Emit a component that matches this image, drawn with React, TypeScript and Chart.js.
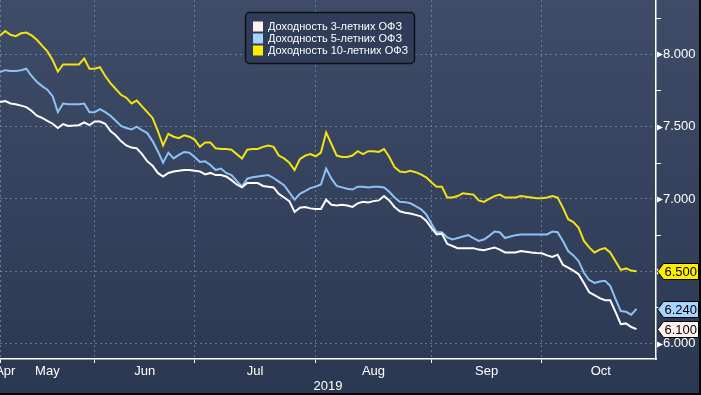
import React, { useEffect, useRef } from 'react';
import { Chart, registerables } from 'chart.js';

Chart.register(...registerables);

// ---- Data ----
const seriesNames = ['Доходность 3-летних ОФЗ', 'Доходность 5-летних ОФЗ', 'Доходность 10-летних ОФЗ'];

const yield3 = [
  7.67, 7.677, 7.66, 7.655, 7.645, 7.635, 7.61, 7.575, 7.56, 7.54,
  7.52, 7.49, 7.517, 7.505, 7.507, 7.51, 7.53, 7.51, 7.535, 7.535,
  7.52, 7.47, 7.44, 7.4, 7.37, 7.355, 7.35, 7.31, 7.26, 7.23,
  7.18, 7.155, 7.18, 7.19, 7.195, 7.2, 7.2, 7.195, 7.19, 7.17,
  7.18, 7.165, 7.165, 7.155, 7.13, 7.1, 7.08, 7.11, 7.11, 7.11,
  7.09, 7.085, 7.08, 7.035, 7.01, 6.985, 6.91, 6.94, 6.945, 6.935,
  6.93, 6.93, 6.995, 6.96, 6.955, 6.96, 6.955, 6.945, 6.97, 6.98,
  6.975, 6.985, 6.99, 7.02, 6.99, 6.945, 6.915, 6.905, 6.9, 6.89,
  6.88, 6.85, 6.8, 6.755, 6.76, 6.69, 6.675, 6.66, 6.66, 6.66,
  6.66, 6.65, 6.645, 6.655, 6.665, 6.65, 6.63, 6.63, 6.63, 6.64,
  6.635, 6.63, 6.627, 6.625, 6.61, 6.6, 6.615, 6.545, 6.525, 6.505,
  6.48, 6.42, 6.355, 6.335, 6.315, 6.3, 6.3, 6.22, 6.135, 6.14,
  6.115, 6.1,
];

const yield5 = [
  7.877, 7.89, 7.885, 7.885, 7.89, 7.9, 7.85, 7.81, 7.78, 7.755,
  7.71, 7.6, 7.66, 7.655, 7.655, 7.655, 7.66, 7.6, 7.6, 7.62,
  7.6, 7.575, 7.54, 7.505, 7.49, 7.48, 7.5, 7.475, 7.455, 7.4,
  7.33, 7.25, 7.32, 7.28, 7.305, 7.325, 7.32, 7.29, 7.255, 7.26,
  7.235, 7.2, 7.21, 7.18, 7.165, 7.125, 7.085, 7.14, 7.15, 7.155,
  7.16, 7.165, 7.145, 7.12, 7.095, 7.045, 6.995, 7.035, 7.055, 7.075,
  7.085, 7.1, 7.21, 7.14, 7.09, 7.08, 7.07, 7.065, 7.085, 7.085,
  7.08, 7.085, 7.085, 7.08, 7.05, 7.01, 6.98, 6.978, 6.97, 6.95,
  6.93, 6.895, 6.83, 6.77, 6.77, 6.735, 6.72, 6.73, 6.74, 6.75,
  6.73, 6.71, 6.72, 6.745, 6.775, 6.77, 6.73, 6.74, 6.75, 6.755,
  6.755, 6.755, 6.755, 6.755, 6.755, 6.775, 6.77, 6.71, 6.64, 6.61,
  6.57, 6.49, 6.44, 6.42, 6.43, 6.435, 6.4, 6.31, 6.225, 6.22,
  6.2, 6.24,
];

const yield10 = [
  8.13, 8.16, 8.135, 8.125, 8.145, 8.15, 8.13, 8.1, 8.06, 8.02,
  7.96, 7.88, 7.93, 7.93, 7.93, 7.93, 7.97, 7.9, 7.9, 7.91,
  7.85, 7.8, 7.76, 7.72, 7.7, 7.66, 7.68, 7.64, 7.6, 7.56,
  7.47, 7.37, 7.45, 7.43, 7.42, 7.44, 7.43, 7.41, 7.36, 7.39,
  7.39, 7.35, 7.345, 7.345, 7.34, 7.31, 7.28, 7.34, 7.345, 7.345,
  7.36, 7.37, 7.36, 7.3, 7.28, 7.25, 7.2, 7.275, 7.3, 7.31,
  7.295, 7.32, 7.46, 7.38, 7.3, 7.29, 7.29, 7.3, 7.33, 7.31,
  7.33, 7.33, 7.325, 7.345, 7.29, 7.22, 7.19, 7.185, 7.195, 7.185,
  7.17, 7.15, 7.115, 7.085, 7.085, 7.01, 7.01, 7.02, 7.04, 7.035,
  7.03, 6.99, 6.98, 7.0, 7.02, 7.03, 7.01, 7.01, 7.01, 7.02,
  7.015, 7.01, 7.005, 7.005, 7.01, 7.02, 7.01, 6.94, 6.86, 6.84,
  6.8, 6.71, 6.665, 6.63, 6.65, 6.66, 6.63, 6.57, 6.51, 6.52,
  6.505, 6.5,
];

const monthNames = ['Apr', 'May', 'Jun', 'Jul', 'Aug', 'Sep', 'Oct'];
const monthLabelIdx = [1, 9, 27.5, 48.5, 71, 92.5, 114.2];
const monthTickIdx = [0, 18, 37, 60, 82, 103];
const yearLabel = '2019';
const yTickValues = [6, 6.25, 6.5, 6.75, 7, 7.25, 7.5, 7.75, 8, 8.25];
const yMajorStep = 0.5;

const lineColors = ['#ffffff', '#8cc3f2', '#f3e312'];
const swatchColors = ['#fff2ee', '#a6d3ff', '#ffee00'];

const AXIS_FONT = '"Liberation Sans", Arial, sans-serif';

const isMajor = (v: number) => Math.abs(v / yMajorStep - Math.round(v / yMajorStep)) < 1e-6;

const bgPlugin = {
  id: 'bg',
  beforeDraw(chart: any) {
    const { ctx, width, height } = chart;
    ctx.save();
    const g = ctx.createLinearGradient(0, 0, 0, height);
    g.addColorStop(0, '#3e4c68');
    g.addColorStop(1, '#2a3852');
    ctx.fillStyle = g;
    ctx.fillRect(0, 0, width, height);
    ctx.restore();
  },
};

const overlayPlugin = {
  id: 'overlay',
  afterDraw(chart: any) {
    const { ctx, chartArea, scales, width, height } = chart;
    const xs = scales.x;
    const ys = scales.y;
    ctx.save();

    // y axis tick marks (minor lines / major arrows)
    ctx.fillStyle = '#ffffff';
    ctx.strokeStyle = '#ffffff';
    ctx.lineWidth = 1;
    const ax = chartArea.right;
    yTickValues.forEach((v) => {
      const y = Math.round(ys.getPixelForValue(v)) + 0.5;
      if (isMajor(v)) {
        ctx.beginPath();
        ctx.moveTo(ax + 1, y - 3);
        ctx.lineTo(ax + 7, y);
        ctx.lineTo(ax + 1, y + 3);
        ctx.closePath();
        ctx.fill();
      } else {
        ctx.beginPath();
        ctx.moveTo(ax, y);
        ctx.lineTo(ax + 5, y);
        ctx.stroke();
      }
    });

    // month labels
    ctx.fillStyle = '#ffffff';
    ctx.font = '13px ' + AXIS_FONT;
    ctx.textAlign = 'center';
    ctx.textBaseline = 'middle';
    monthNames.forEach((m, i) => {
      ctx.fillText(m, xs.getPixelForValue(monthLabelIdx[i]), chartArea.bottom + 12);
    });
    ctx.fillText(yearLabel, (chartArea.left + chartArea.right) / 2, chartArea.bottom + 27);

    // last value tags
    const lastVals = chart.data.datasets.map((d: any) => d.data[d.data.length - 1].y);
    lastVals.forEach((v: number, i: number) => {
      const y = Math.round(ys.getPixelForValue(v)) + 0.5;
      const x0 = ax + 1.5;
      ctx.beginPath();
      ctx.moveTo(x0, y);
      ctx.lineTo(x0 + 6, y - 8);
      ctx.lineTo(width - 2.5, y - 8);
      ctx.lineTo(width - 2.5, y + 8);
      ctx.lineTo(x0 + 6, y + 8);
      ctx.closePath();
      ctx.fillStyle = swatchColors[i];
      ctx.fill();
      ctx.strokeStyle = '#000000';
      ctx.lineWidth = 1;
      ctx.stroke();
      ctx.fillStyle = '#000000';
      ctx.textAlign = 'left';
      ctx.textBaseline = 'middle';
      ctx.font = '13px ' + AXIS_FONT;
      ctx.fillText(v.toFixed(3), x0 + 7, y + 1);
    });

    // legend
    const lx = 245.5, ly = 12.5, lw = 169, lh = 51;
    ctx.beginPath();
    if ((ctx as any).roundRect) (ctx as any).roundRect(lx, ly, lw, lh, 4);
    else ctx.rect(lx, ly, lw, lh);
    ctx.fillStyle = '#2f3d59';
    ctx.fill();
    ctx.strokeStyle = '#0d1018';
    ctx.lineWidth = 1.5;
    ctx.stroke();
    ctx.font = '11px ' + AXIS_FONT;
    ctx.textAlign = 'left';
    ctx.textBaseline = 'middle';
    chart.data.datasets.forEach((d: any, i: number) => {
      const cy = 26.5 + i * 12;
      ctx.fillStyle = swatchColors[i];
      ctx.fillRect(253, cy - 5, 10, 10);
      ctx.fillStyle = '#ffffff';
      ctx.fillText(d.label, 268, cy + 0.5);
    });

    // dark frame edges
    ctx.fillStyle = '#05070b';
    ctx.fillRect(width - 2, 0, 2, height);
    ctx.fillRect(0, height - 2, width, 2);
    ctx.restore();
  },
};

export default function App() {
  const ref = useRef<HTMLCanvasElement>(null);
  useEffect(() => {
    const canvas = ref.current!;
    const mk = (arr: number[]) => arr.map((v, i) => ({ x: i, y: v }));
    const allSeries = [yield3, yield5, yield10];
    const gridColor = 'rgba(120,140,170,0.75)';
    const chart = new Chart(canvas, {
      type: 'line',
      data: {
        datasets: allSeries.map((s, i) => ({
          label: seriesNames[i],
          data: mk(s),
          borderColor: lineColors[i],
          backgroundColor: lineColors[i],
          borderWidth: 2,
          pointRadius: 0,
          tension: 0,
          fill: false,
        })),
      },
      options: {
        animation: false,
        responsive: false,
        devicePixelRatio: 1,
        layout: { padding: 0 },
        plugins: { legend: { display: false }, tooltip: { enabled: false } },
        scales: {
          x: {
            type: 'linear',
            position: 'bottom',
            min: 0,
            max: 124.7,
            afterBuildTicks: (s: any) => {
              s.ticks = monthTickIdx.map((v) => ({ value: v }));
            },
            afterFit: (s: any) => {
              s.height = 36;
              s.paddingLeft = 0;
              s.paddingRight = 0;
              s.paddingTop = 0;
              s.paddingBottom = 0;
            },
            ticks: { display: false },
            grid: {
              color: gridColor,
              lineWidth: 1,
              drawTicks: true,
              tickLength: 4,
              tickColor: '#ffffff',
              tickWidth: 1,
            },
            border: { display: true, color: '#ffffff', width: 1.5, dash: [2, 3] },
          },
          y: {
            type: 'linear',
            position: 'right',
            min: 5.894,
            max: 8.375,
            afterBuildTicks: (s: any) => {
              s.ticks = yTickValues.map((v) => ({ value: v }));
            },
            afterFit: (s: any) => {
              s.width = 45;
              s.paddingTop = 0;
              s.paddingBottom = 0;
              s.paddingLeft = 0;
              s.paddingRight = 0;
            },
            ticks: {
              autoSkip: false,
              padding: 7,
              color: '#ffffff',
              font: { family: AXIS_FONT, size: 13 },
              callback: (v: any) => (isMajor(Number(v)) ? Number(v).toFixed(3) : ''),
            },
            grid: {
              color: (c: any) => (c.tick && isMajor(c.tick.value) ? gridColor : 'rgba(0,0,0,0)'),
              lineWidth: 1,
              drawTicks: false,
            },
            border: { display: true, color: '#ffffff', width: 1.5, dash: [2, 3] },
          },
        },
      } as any,
      plugins: [bgPlugin, overlayPlugin],
    });
    return () => chart.destroy();
  }, []);
  return (
    <div style={{ position: 'fixed', left: 0, top: 0, width: 701, height: 395 }}>
      <canvas ref={ref} width={701} height={395} style={{ display: 'block', width: 701, height: 395 }} />
    </div>
  );
}
